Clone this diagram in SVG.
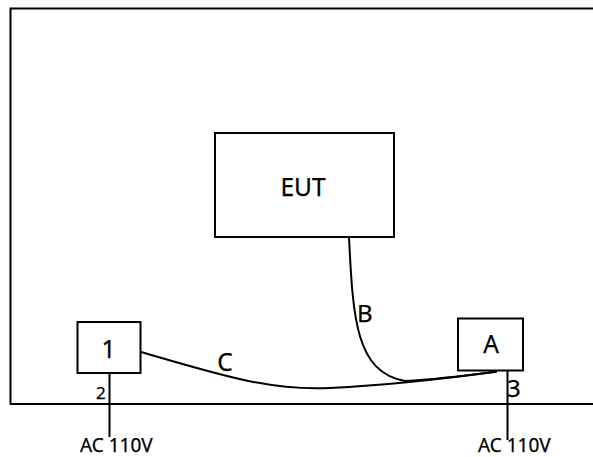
<svg xmlns="http://www.w3.org/2000/svg" width="593" height="457" viewBox="0 0 593 457">
<style>
.ln{fill:none;stroke:#000;stroke-width:2}
.bx{fill:#fff;stroke:#000;stroke-width:2}
text{font-family:"Noto Sans","Open Sans",sans-serif;fill:#000;stroke:#000;stroke-width:0.25}
.big{font-size:24.5px;text-anchor:middle}
.ac{font-size:19px}
</style>
<rect width="593" height="457" fill="#fff" stroke="none"/>
<g id="frame">
<path class="ln" d="M593,8.5 H10.5 V404 H593"/>
</g>
<g id="connectors">
<path class="ln" d="M109.5,373 V437"/>
<path class="ln" d="M507.5,371 V440"/>
<path class="ln" d="M141,352 C220,375 270,391 330,388 C390,385 450,378 497,371.5"/>
<path class="ln" d="M349,237 C353,320 356,372 405,381 C440,379 470,375 497,371.5"/>
<text x="225" y="371" class="big">C</text>
<text x="357" y="322" style="font-size:24px">B</text>
<text x="96" y="399" style="font-size:17px">2</text>
<text x="507" y="397" style="font-size:24px">3</text>
</g>
<g id="eut">
<rect class="bx" x="215" y="133" width="179" height="104"/>
<text x="303" y="196" class="big">EUT</text>
</g>
<g id="node1">
<rect class="bx" x="77.5" y="322" width="63" height="51"/>
<text x="108.5" y="358" class="big">1</text>
</g>
<g id="nodeA">
<rect class="bx" x="458" y="318.5" width="65" height="52"/>
<text x="491" y="353" class="big">A</text>
</g>
<g id="ac1"><text x="80" y="452" class="ac">AC 110V</text></g>
<g id="ac2"><text x="478" y="452" class="ac">AC 110V</text></g>
</svg>
